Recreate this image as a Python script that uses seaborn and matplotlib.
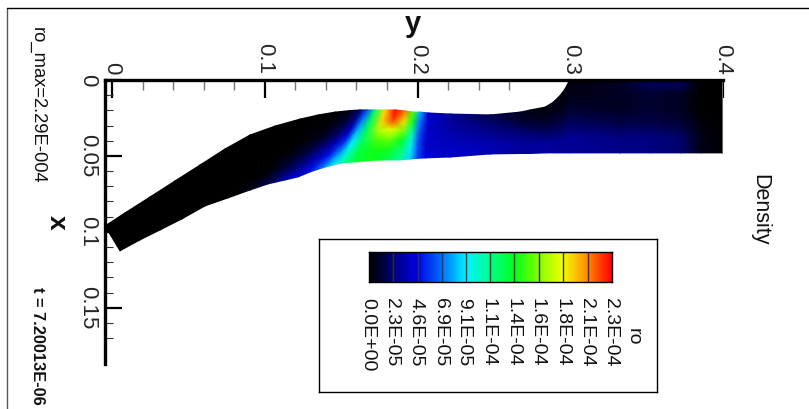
import numpy as np
import matplotlib
matplotlib.use("Agg")
import matplotlib.pyplot as plt
from matplotlib.colors import LinearSegmentedColormap
from matplotlib.lines import Line2D
from matplotlib.ticker import FixedLocator
import seaborn as sns

# channel walls, one entry per mesh station (data units)
upper_y = [-0.0046, 0.0085, 0.0249, 0.0413, 0.0577, 0.0740, 0.0904, 0.1068, 0.1232, 0.1350, 0.1461, 0.1560, 0.1625, 0.1671,
           0.1723, 0.1789, 0.1855, 0.1920, 0.1972, 0.2018, 0.2071, 0.2215, 0.2477, 0.2674, 0.2739, 0.2837, 0.2890, 0.2936,
           0.2969, 0.2995, 0.3329, 0.3526, 0.3722, 0.3853, 0.4]
upper_x = [0.0961, 0.0875, 0.0770, 0.0664, 0.0559, 0.0454, 0.0362, 0.0303, 0.0257, 0.0230, 0.0211, 0.0201, 0.0197, 0.0197,
           0.0197, 0.0197, 0.0197, 0.0204, 0.0211, 0.0211, 0.0217, 0.0224, 0.0230, 0.0211, 0.0197, 0.0178, 0.0145, 0.0099,
           0.0053, 0.0, 0.0, 0.0, 0.0, 0.0, 0.0]
lower_y = [0.0052, 0.0183, 0.0315, 0.0459, 0.0609, 0.0760, 0.0904, 0.1022, 0.1134, 0.1219, 0.1298, 0.1376, 0.1448, 0.1507,
           0.1592, 0.1691, 0.1789, 0.1887, 0.1953, 0.1999, 0.2051, 0.2215, 0.2477, 0.2674, 0.2739, 0.2837, 0.2890, 0.2936,
           0.2969, 0.2995, 0.3329, 0.3526, 0.3722, 0.3853, 0.4]
lower_x = [0.1125, 0.1053, 0.0987, 0.0914, 0.0829, 0.0776, 0.0724, 0.0684, 0.0658, 0.0638, 0.0605, 0.0579, 0.0559, 0.0546,
           0.0539, 0.0530, 0.0526, 0.0526, 0.0520, 0.0516, 0.0513, 0.0507, 0.0487, 0.0484, 0.0484, 0.0480, 0.0480, 0.0480,
           0.0480, 0.0480, 0.0480, 0.0480, 0.0480, 0.0480, 0.0480]

# density in units of 1e-5, rows go from the upper wall to the lower wall
ro_row0 = [0, 0, 0, 0, 0, 0, 0, 0, 0, 0, 0, 0.5, 2, 6, 12, 19, 23, 21, 15, 8, 4, 3, 1.5, 0.8, 0.5, 0.3, 0.3, 0.3, 0.3, 0.3, 0.8, 2, 2, 0, 0]
ro_row1 = [0, 0, 0, 0, 0, 0, 0, 0, 0, 0.1, 0.3, 1, 3, 7, 12.5, 19, 22, 19, 14, 7, 4, 3, 2, 1, 0.8, 0.5, 0.5, 0.5, 0.5, 0.5, 0.8, 1, 0.8, 0, 0]
ro_row2 = [0, 0, 0, 0, 0, 0, 0, 0, 0, 0.3, 0.8, 2, 4, 8, 12.5, 17, 18, 16, 11.5, 6.5, 4, 3.3, 2.5, 1.8, 1.5, 1.2, 1.1, 1, 1, 1, 0.8, 1, 0.8, 0, 0]
ro_row3 = [0, 0, 0, 0, 0, 0, 0, 0, 0.5, 1.2, 2, 3.5, 5.5, 9, 12.5, 15, 15.5, 13.5, 10, 6, 4, 3.5, 3, 2.5, 2.3, 2, 1.9, 1.8, 1.8, 1.8, 1.5, 1.5, 1.2, 0.3, 0]
ro_row4 = [0, 0, 0, 0, 0, 0, 0, 0.3, 1.5, 2.5, 3.5, 5, 7.5, 10, 13, 14, 14, 12, 9, 6, 4, 3.8, 3.5, 3, 3, 3, 2.9, 2.8, 2.8, 2.8, 2.5, 2.4, 2, 0.5, 0]
ro_row5 = [0, 0, 0, 0, 0, 0, 0.5, 1.5, 3.5, 4.2, 5, 7, 9, 11, 13, 14, 13, 11, 8.5, 6, 4.5, 4, 3.5, 3, 3, 3, 2.9, 2.8, 2.8, 2.8, 2.5, 2.4, 2, 0.5, 0]

ro_max = 22.9
level_values = [0, 2.3, 4.6, 6.9, 9.1, 11.4, 13.7, 16.0, 18.3, 20.6, 22.9]
level_labels = ["0.0E+00", "2.3E-05", "4.6E-05", "6.9E-05", "9.1E-05", "1.1E-04",
                "1.4E-04", "1.6E-04", "1.8E-04", "2.1E-04", "2.3E-04"]
y_major = [0, 0.1, 0.2, 0.3, 0.4]
y_labels = ["0", "0.1", "0.2", "0.3", "0.4"]
y_minor = [0.02, 0.04, 0.06, 0.08, 0.12, 0.14, 0.16, 0.18, 0.22, 0.24, 0.26]
x_major = [0, 0.05, 0.1, 0.15]
x_labels = ["0", "0.05", "0.1", "0.15"]
x_minor = [0.01, 0.02, 0.03, 0.04, 0.06, 0.07, 0.08, 0.09, 0.11, 0.12, 0.13, 0.14, 0.16, 0.17]

W, H = 809, 409

sns.set_style("white")
plt.rcParams["font.family"] = ["Liberation Sans", "DejaVu Sans"]

ro_cmap = LinearSegmentedColormap.from_list("ro_jet", [
    (0.0, (0, 0, 0)), (0.05, (0, 0, 0.22)), (0.1, (0, 0, 0.5)), (0.2, (0, 0, 0.9)), (0.3, (0, 0.45, 1)),
    (0.4, (0, 0.95, 1)), (0.5, (0, 1, 0.55)), (0.6, (0, 1, 0.1)), (0.7, (0.5, 1, 0)), (0.8, (0.95, 1, 0)),
    (0.9, (1, 0.55, 0)), (1.0, (1, 0, 0))])


def box(left, top, right, bottom):
    """Axes rectangle from pixel edges."""
    return [left / W, 1 - bottom / H, (right - left) / W, (bottom - top) / H]


fig = plt.figure(figsize=(W / 100, H / 100), dpi=100)

ax = fig.add_axes(box(105, 80, 723, 364))
ax.set_facecolor("none")

# structured mesh between the two walls
blend = np.array([0, 0.2, 0.4, 0.6, 0.8, 1.0])[:, None]
mesh_y = np.array(upper_y) * (1 - blend) + np.array(lower_y) * blend
mesh_x = np.array(upper_x) * (1 - blend) + np.array(lower_x) * blend
ro = np.array([ro_row0, ro_row1, ro_row2, ro_row3, ro_row4, ro_row5])
ax.pcolormesh(mesh_y, mesh_x, ro, shading="gouraud", cmap=ro_cmap, vmin=0, vmax=ro_max)

# outlet edge
sns.lineplot(x=[upper_y[-1], lower_y[-1]], y=[upper_x[-1], lower_x[-1]], color="#777777", lw=1.2, ax=ax,
             estimator=None, sort=False)

ax.set_xlim(-0.0046, 0.4)
ax.set_ylim(0.187, 0)
ax.xaxis.tick_top()
ax.set_xticks(y_major)
ax.set_xticklabels(y_labels)
ax.set_yticks(x_major)
ax.set_yticklabels(x_labels)
ax.xaxis.set_minor_locator(FixedLocator(y_minor))
ax.yaxis.set_minor_locator(FixedLocator(x_minor))
ax.tick_params(axis="x", which="major", direction="in", length=13, width=1.6, color="black", pad=4,
               labelsize=16, labelrotation=-90, top=True, bottom=False)
ax.tick_params(axis="x", which="minor", direction="in", length=7, width=1.0, color="#777777", top=True, bottom=False)
ax.tick_params(axis="y", which="major", direction="in", length=12, width=1.6, color="black", pad=5,
               labelsize=16, labelrotation=-90, left=True)
ax.tick_params(axis="y", which="minor", direction="in", length=6, width=0.8, color="#333333", left=True)
for lab in ax.get_yticklabels():
    lab.set_va("center")
for name in ["bottom", "right"]:
    ax.spines[name].set_visible(False)
for name in ["top", "left"]:
    ax.spines[name].set_linewidth(2.4)
    ax.spines[name].set_color("black")
ax.grid(False)

# legend box
leg = fig.add_axes(box(319, 239, 657, 392))
leg.set_xticks([])
leg.set_yticks([])
for sp in leg.spines.values():
    sp.set_linewidth(1.0)
    sp.set_color("black")

bar = fig.add_axes(box(369, 252, 612, 282))
ramp = np.linspace(0, ro_max, 243)[None, :]
sns.heatmap(ramp, cmap=ro_cmap, vmin=0, vmax=ro_max, cbar=False, xticklabels=False, yticklabels=False, ax=bar)
for lev in level_values[1:-1]:
    bar.axvline(lev / ro_max * 243, color="#333333", lw=1.0)
for sp in bar.spines.values():
    sp.set_visible(True)
    sp.set_linewidth(1.0)
    sp.set_color("black")

for lev, lab in zip(level_values, level_labels):
    px = 369 + lev / ro_max * 243 - 1.5
    fig.text(px / W, 1 - 298 / H, lab, rotation=-90, ha="center", va="top", fontsize=14, color="#111111")
fig.text(633 / W, 1 - 337 / H, "ro", rotation=-90, ha="center", va="center", fontsize=14, color="#111111")

# titles and annotations
fig.text(413 / W, 1 - 24 / H, "y", ha="center", va="center", fontsize=21, fontweight="bold", color="#111111")
fig.text(57 / W, 1 - 222 / H, "x", rotation=-90, ha="center", va="center", fontsize=19, fontweight="bold", color="#111111")
fig.text(760 / W, 1 - 210 / H, "Density", rotation=-90, ha="center", va="center", fontsize=15.5, color="#111111")
fig.text(37 / W, 1 - 27 / H, "ro_max=2.29E-004", rotation=-90, ha="center", va="top", fontsize=13.2, color="#111111")
fig.text(37 / W, 1 - 287 / H, "t = 7.20013E-06", rotation=-90, ha="center", va="top", fontsize=11.8,
         fontweight="bold", color="#111111")

# outer frame
fig.add_artist(Line2D([7.5 / W, 7.5 / W], [0, 1 - 8 / H], color="#555555", lw=1.0))
fig.add_artist(Line2D([7.5 / W, 1], [1 - 8 / H, 1 - 8 / H], color="black", lw=1.0))

fig.savefig("out.png", dpi=100)
